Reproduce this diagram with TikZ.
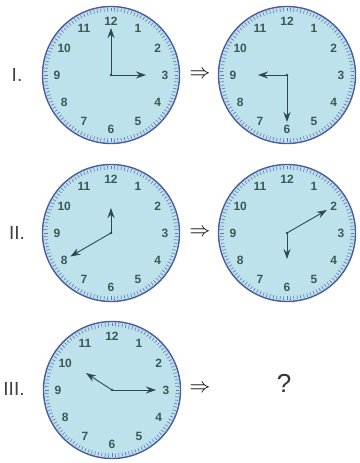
\documentclass[tikz,border=0pt]{standalone}
\usepackage{fontspec}
\setmainfont{Liberation Sans}
\usetikzlibrary{arrows.meta}
\definecolor{faceblue}{HTML}{BEE2EC}
\definecolor{rimblue}{HTML}{4A5C9E}
\definecolor{numgray}{HTML}{3D5853}
\definecolor{handteal}{HTML}{2E4A4C}

% clock face: name, centre
\newcommand{\clockface}[2]{%
  \node[face] (#1) at (#2) {};
  \begin{scope}[shift={(#2)}]
    \foreach \m in {0,...,119}
      \draw[rimblue!85, line width=0.6pt] (\m*3:63.5) -- (\m*3:67);
    \foreach \n in {1,...,12}
      \node[digit] at (90-\n*30:54) {\n};
    \fill[handteal] (0,0) circle (1.4);
  \end{scope}
}

\begin{document}
\begin{tikzpicture}[x=1pt, y=1pt,
    face/.style={circle, draw=rimblue, fill=faceblue, line width=1.4pt,
      minimum size=137pt, inner sep=0pt},
    digit/.style={font=\bfseries\fontsize{12}{13}\selectfont, text=numgray, inner sep=0pt},
    hand/.style={draw=handteal, line width=0.9pt,
      -{Stealth[length=10pt, width=7pt]}},
    tag/.style={font=\fontsize{19}{20}\selectfont, text=black!75, anchor=center},
    imply/.style={font=\fontsize{20}{22}\selectfont}]
  \useasboundingbox (0,0) rectangle (359,463);

  \clockface{ca}{111,388}
  \clockface{cb}{287,388}
  \clockface{cc}{111,230}
  \clockface{cd}{287,230}
  \clockface{ce}{112,73}

  % hands
  \draw[hand] (ca.center) -- ++(90:47);
  \draw[hand] (ca.center) -- ++(0:35);
  \draw[hand] (cb.center) -- ++(270:47);
  \draw[hand] (cb.center) -- ++(180:29);
  \draw[hand] (cc.center) -- ++(90:25);
  \draw[hand] (cc.center) -- ++(210:47);
  \draw[hand] (cd.center) -- ++(30:46);
  \draw[hand] (cd.center) -- ++(270:26);
  \draw[hand] (ce.center) -- ++(0:44);
  \draw[hand] (ce.center) -- ++(147:31);

  \node[tag] (la) at (17,388) {I.};
  \node[tag] (lb) at (17,230) {II.};
  \node[tag] (lc) at (14,74) {III.};
  \node[imply] (ia) at (200,388) {$\Rightarrow$};
  \node[imply] (ib) at (200,230) {$\Rightarrow$};
  \node[imply] (ic) at (200,74) {$\Rightarrow$};
  \node[font=\fontsize{26}{28}\selectfont, text=black!80] (q) at (284,80) {?};
\end{tikzpicture}
\end{document}
